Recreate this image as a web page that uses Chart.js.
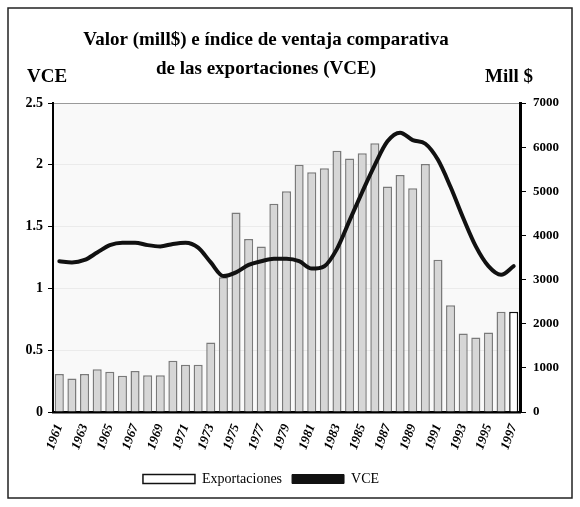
<!DOCTYPE html>
<html>
<head>
<meta charset="utf-8">
<script src="https://cdn.jsdelivr.net/npm/chart.js@4.4.1/dist/chart.umd.min.js"></script>
<style>
  html, body { margin: 0; padding: 0; background: #fff; }
  #wrap { position: relative; width: 580px; height: 507px; }
</style>
</head>
<body>
<div id="wrap"><canvas id="myChart" width="580" height="507"></canvas></div>
<script>
const years = ['1961', '1962', '1963', '1964', '1965', '1966', '1967', '1968', '1969', '1970',
    '1971', '1972', '1973', '1974', '1975', '1976', '1977', '1978', '1979', '1980',
    '1981', '1982', '1983', '1984', '1985', '1986', '1987', '1988', '1989', '1990',
    '1991', '1992', '1993', '1994', '1995', '1996', '1997'];

// Exportaciones (mill $), eje derecho
const exportaciones = [860, 760, 860, 970, 910, 820, 930, 835, 835, 1160,
    1070, 1070, 1575, 3050, 4520, 3920, 3750, 4720, 5000, 5600,
    5430, 5520, 5920, 5740, 5860, 6090, 5110, 5370, 5070, 5620,
    3450, 2420, 1780, 1690, 1800, 2270, 2270];

// indice VCE, eje izquierdo
const vce = [1.22, 1.21, 1.23, 1.29, 1.35, 1.37, 1.37, 1.35, 1.34, 1.36,
    1.37, 1.33, 1.21, 1.10, 1.13, 1.19, 1.22, 1.24, 1.24, 1.22,
    1.16, 1.18, 1.32, 1.55, 1.78, 2.0, 2.19, 2.26, 2.20, 2.17,
    2.04, 1.82, 1.57, 1.34, 1.18, 1.11, 1.18];

const titulo = ['Valor (mill$) e índice de ventaja comparativa', 'de las exportaciones (VCE)'];

const serif = '"Liberation Serif", "DejaVu Serif", serif';

// colores de barras, la ultima sale en blanco
const barFill = exportaciones.map((v, i) => i === exportaciones.length - 1 ? '#ffffff' : '#d6d6d6');
const barLine = exportaciones.map((v, i) => i === exportaciones.length - 1 ? '#111111' : '#7a7a7a');

// marco, fondo del area y titulos de los ejes
const extras = {
    id: 'extras',
    afterLayout(chart) {
        // titulo y leyenda un poco corridos a la izquierda, como en el original
        if (chart.titleBlock) {
            chart.titleBlock.left -= 24;
            chart.titleBlock.right -= 24;
        }
        if (chart.legend) {
            chart.legend.left -= 29;
            chart.legend.right -= 29;
        }
    },
    beforeDraw(chart) {
        const ctx = chart.ctx;
        ctx.save();
        ctx.fillStyle = '#fff';
        ctx.fillRect(0, 0, chart.width, chart.height);
        const a = chart.chartArea;
        ctx.fillStyle = '#f9f9f9';
        ctx.fillRect(a.left, a.top, a.right - a.left, a.bottom - a.top);
        ctx.restore();
    },
    afterDraw(chart) {
        const ctx = chart.ctx;
        ctx.save();
        ctx.strokeStyle = '#222';
        ctx.lineWidth = 1.5;
        ctx.strokeRect(8, 8, 564, 490);
        ctx.fillStyle = '#000';
        ctx.font = 'bold 19px ' + serif;
        ctx.textBaseline = 'alphabetic';
        ctx.textAlign = 'left';
        ctx.fillText('VCE', 27, 82);
        ctx.fillText('Mill $', 485, 82);
        ctx.restore();
    }
};

const ctx = document.getElementById('myChart').getContext('2d');
const chart = new Chart(ctx, {
    type: 'bar',
    data: {
        labels: years,
        datasets: [
            {
                type: 'bar',
                label: 'Exportaciones',
                data: exportaciones,
                yAxisID: 'y1',
                backgroundColor: barFill,
                borderColor: barLine,
                borderWidth: 1.5,
                barPercentage: 0.72,
                categoryPercentage: 1,
                order: 2
            },
            {
                type: 'line',
                label: 'VCE',
                data: vce,
                yAxisID: 'y',
                borderColor: '#111',
                backgroundColor: '#111',
                borderWidth: 4,
                borderCapStyle: 'round',
                pointRadius: 0,
                cubicInterpolationMode: 'monotone',
                order: 1
            }
        ]
    },
    options: {
        responsive: false,
        animation: false,
        layout: { padding: { left: 0, right: 0, top: 0, bottom: 11 } },
        plugins: {
            title: {
                display: true,
                text: titulo,
                color: '#000',
                font: { family: serif, size: 19, weight: 'bold', lineHeight: 1.5 },
                padding: { top: 26, bottom: 20 }
            },
            legend: {
                position: 'bottom',
                labels: {
                    color: '#000',
                    font: { family: serif, size: 14 },
                    boxWidth: 52,
                    boxHeight: 9,
                    padding: 10,
                    generateLabels: () => [
                        { text: 'Exportaciones', fillStyle: '#fff', strokeStyle: '#111', lineWidth: 1.5, datasetIndex: 0 },
                        { text: 'VCE', fillStyle: '#111', strokeStyle: '#111', lineWidth: 1, datasetIndex: 1 }
                    ]
                }
            },
            tooltip: { enabled: false }
        },
        scales: {
            x: {
                grid: { display: false },
                border: { color: '#000', width: 2.5 },
                ticks: {
                    autoSkip: false,
                    minRotation: 70,
                    maxRotation: 70,
                    color: '#000',
                    padding: 2,
                    font: { family: serif, size: 13, weight: 'bold', style: 'italic' },
                    callback: function (value, index) {
                        return index % 2 === 0 ? this.getLabelForValue(value) : '';
                    }
                },
                afterFit: (scale) => { scale.height = 50; }
            },
            y: {
                position: 'left',
                min: 0,
                max: 2.5,
                ticks: {
                    stepSize: 0.5,
                    color: '#000',
                    padding: 5,
                    font: { family: serif, size: 14, weight: 'bold' },
                    callback: (v) => String(v)
                },
                grid: {
                    color: (c) => c.tick && c.tick.value === 2.5 ? '#9a9a9a' : '#ebebeb',
                    tickColor: '#000',
                    tickLength: 5
                },
                border: { color: '#000', width: 2 },
                afterFit: (scale) => { scale.width = 53; }
            },
            y1: {
                position: 'right',
                min: 0,
                max: 7000,
                ticks: {
                    stepSize: 1000,
                    color: '#000',
                    padding: 7,
                    font: { family: serif, size: 13, weight: 'bold' },
                    callback: (v) => String(v)
                },
                grid: {
                    drawOnChartArea: false,
                    tickColor: '#000',
                    tickLength: 6
                },
                border: { color: '#000', width: 3 },
                afterFit: (scale) => { scale.width = 60; }
            }
        }
    },
    plugins: [extras]
});
</script>
</body>
</html>
